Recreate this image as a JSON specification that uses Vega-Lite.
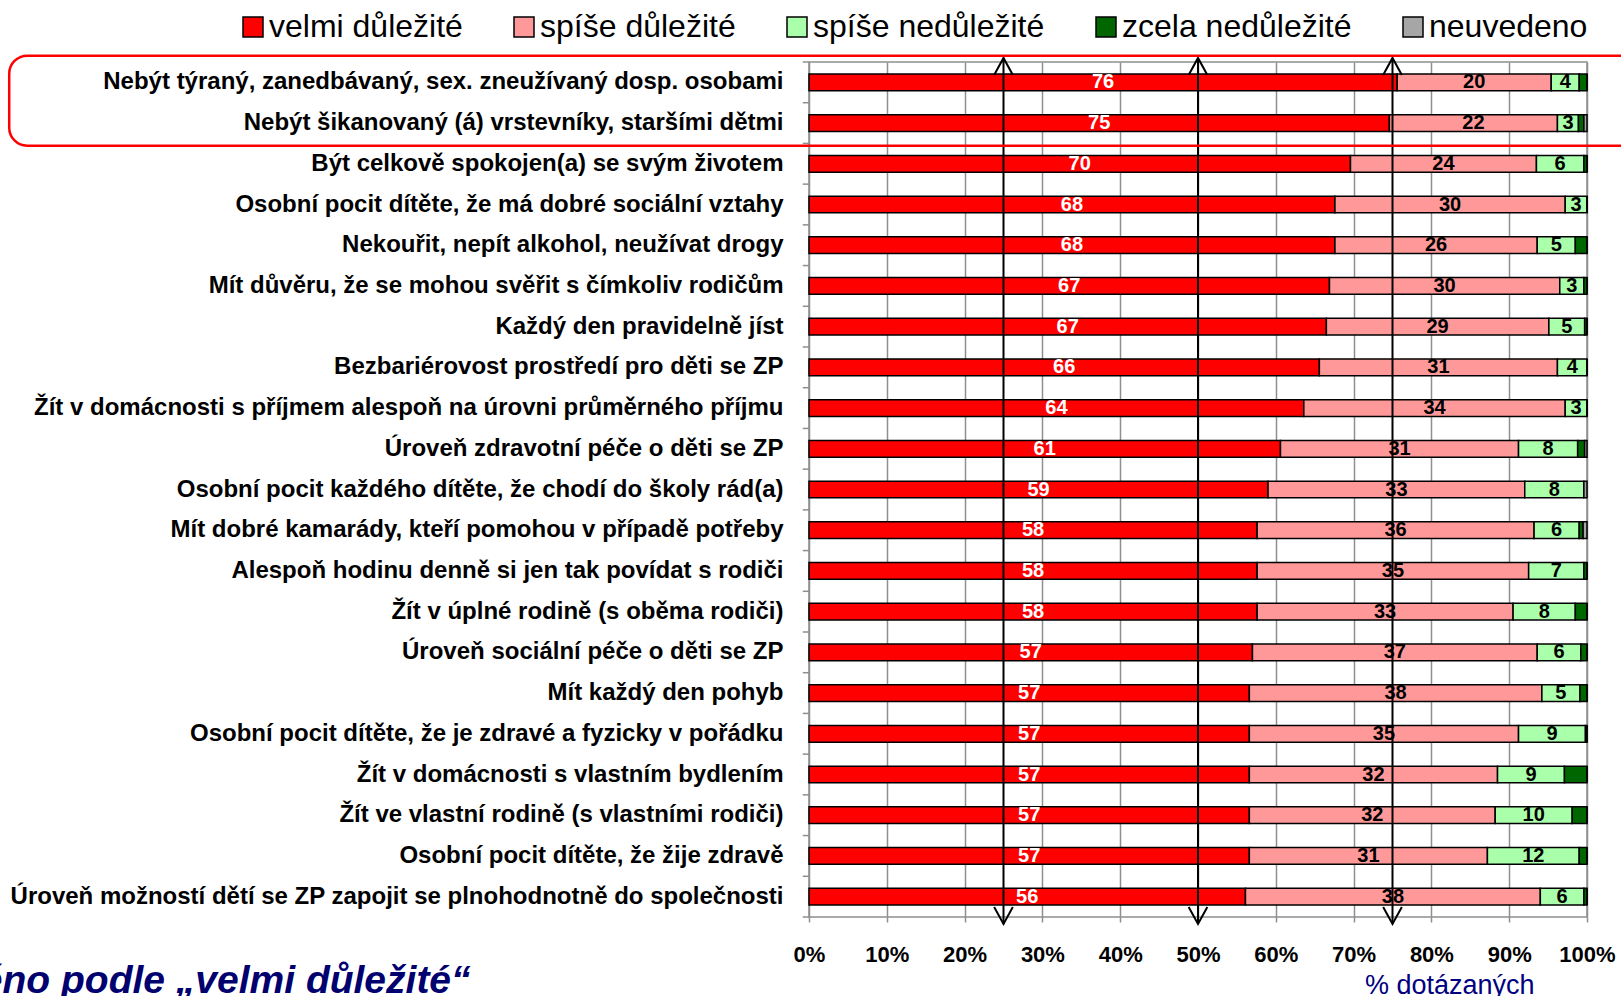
{
  "$schema": "https://vega.github.io/schema/vega-lite/v6.json",
  "width": 778,
  "height": 855,
  "autosize": {"type": "none"},
  "padding": {"left": 809, "top": 62, "right": 34, "bottom": 79},
  "background": "white",
  "config": {
    "font": "Liberation Sans",
    "view": {"stroke": "#8f8f8f", "strokeWidth": 1.5},
    "axisX": {
      "grid": true, "gridColor": "#8f8f8f", "gridWidth": 1.5,
      "domain": false, "tickColor": "#8f8f8f", "tickSize": 5, "tickWidth": 1.5,
      "labelFont": "Liberation Sans", "labelFontSize": 22, "labelFontWeight": "bold", "labelColor": "black",
      "labelPadding": 22, "labelOverlap": false, "labelFlush": false,
      "titleFont": "Liberation Sans", "titleFontSize": 27, "titleFontWeight": "normal", "titleColor": "#000080",
      "titleAnchor": "end", "titleAlign": "right", "titleBaseline": "alphabetic", "titleX": 725, "titleY": 76
    },
    "axisY": {
      "domain": false, "ticks": false, "tickSize": 0, "grid": false,
      "labelFont": "Liberation Sans", "labelFontSize": 24, "labelFontWeight": "bold", "labelColor": "black",
      "labelPadding": 26, "labelLimit": 1000
    },
    "legend": {
      "orient": "none", "legendX": -572, "legendY": -51, "direction": "horizontal",
      "labelFont": "Liberation Sans", "labelFontSize": 32, "labelColor": "black", "labelLimit": 0,
      "symbolType": "square", "symbolSize": 400, "symbolStrokeColor": "black", "symbolStrokeWidth": 1.5,
      "labelOffset": 0, "columnPadding": 45, "padding": 0
    }
  },
  "datasets": {
    "otazky": [
      {"k": "Nebýt týraný, zanedbávaný, sex. zneužívaný dosp. osobami", "velmi důležité": 75.6, "spíše důležité": 19.8, "spíše nedůležité": 3.6, "zcela nedůležité": 1.0, "neuvedeno": 0},
      {"k": "Nebýt šikanovaný (á) vrstevníky, staršími dětmi", "velmi důležité": 74.6, "spíše důležité": 21.6, "spíše nedůležité": 2.7, "zcela nedůležité": 0.7, "neuvedeno": 0.4},
      {"k": "Být celkově spokojen(a) se svým životem", "velmi důležité": 69.6, "spíše důležité": 23.9, "spíše nedůležité": 6.1, "zcela nedůležité": 0.4, "neuvedeno": 0},
      {"k": "Osobní pocit dítěte, že má dobré sociální vztahy", "velmi důležité": 67.6, "spíše důležité": 29.6, "spíše nedůležité": 2.8, "zcela nedůležité": 0, "neuvedeno": 0},
      {"k": "Nekouřit, nepít alkohol, neužívat drogy", "velmi důležité": 67.6, "spíše důležité": 26.0, "spíše nedůležité": 4.9, "zcela nedůležité": 1.5, "neuvedeno": 0},
      {"k": "Mít důvěru, že se mohou svěřit s čímkoliv rodičům", "velmi důležité": 66.9, "spíše důležité": 29.6, "spíše nedůležité": 3.1, "zcela nedůležité": 0.4, "neuvedeno": 0},
      {"k": "Každý den pravidelně jíst", "velmi důležité": 66.5, "spíše důležité": 28.6, "spíše nedůležité": 4.6, "zcela nedůležité": 0.3, "neuvedeno": 0},
      {"k": "Bezbariérovost prostředí pro děti se ZP", "velmi důležité": 65.6, "spíše důležité": 30.6, "spíše nedůležité": 3.8, "zcela nedůležité": 0, "neuvedeno": 0},
      {"k": "Žít v domácnosti s příjmem alespoň na úrovni průměrného příjmu", "velmi důležité": 63.6, "spíše důležité": 33.6, "spíše nedůležité": 2.8, "zcela nedůležité": 0, "neuvedeno": 0},
      {"k": "Úroveň zdravotní péče o děti se ZP", "velmi důležité": 60.6, "spíše důležité": 30.6, "spíše nedůležité": 7.6, "zcela nedůležité": 0.9, "neuvedeno": 0.3},
      {"k": "Osobní pocit každého dítěte, že chodí do školy rád(a)", "velmi důležité": 59.0, "spíše důležité": 33.0, "spíše nedůležité": 7.6, "zcela nedůležité": 0, "neuvedeno": 0.4},
      {"k": "Mít dobré kamarády, kteří pomohou v případě potřeby", "velmi důležité": 57.6, "spíše důležité": 35.6, "spíše nedůležité": 5.8, "zcela nedůležité": 0.5, "neuvedeno": 0.5},
      {"k": "Alespoň hodinu denně si jen tak povídat s rodiči", "velmi důležité": 57.6, "spíše důležité": 34.9, "spíše nedůležité": 7.1, "zcela nedůležité": 0.4, "neuvedeno": 0},
      {"k": "Žít v úplné rodině (s oběma rodiči)", "velmi důležité": 57.6, "spíše důležité": 32.9, "spíše nedůležité": 8.0, "zcela nedůležité": 1.5, "neuvedeno": 0},
      {"k": "Úroveň sociální péče o děti se ZP", "velmi důležité": 57.0, "spíše důležité": 36.6, "spíše nedůležité": 5.6, "zcela nedůležité": 0.8, "neuvedeno": 0},
      {"k": "Mít každý den pohyb", "velmi důležité": 56.6, "spíše důležité": 37.6, "spíše nedůležité": 4.9, "zcela nedůležité": 0.9, "neuvedeno": 0},
      {"k": "Osobní pocit dítěte, že je zdravé a fyzicky v pořádku", "velmi důležité": 56.6, "spíše důležité": 34.6, "spíše nedůležité": 8.6, "zcela nedůležité": 0.2, "neuvedeno": 0},
      {"k": "Žít v domácnosti s vlastním bydlením", "velmi důležité": 56.6, "spíše důležité": 31.9, "spíše nedůležité": 8.6, "zcela nedůležité": 2.9, "neuvedeno": 0},
      {"k": "Žít ve vlastní rodině (s vlastními rodiči)", "velmi důležité": 56.6, "spíše důležité": 31.6, "spíše nedůležité": 9.9, "zcela nedůležité": 1.9, "neuvedeno": 0},
      {"k": "Osobní pocit dítěte, že žije zdravě", "velmi důležité": 56.6, "spíše důležité": 30.6, "spíše nedůležité": 11.8, "zcela nedůležité": 1.0, "neuvedeno": 0},
      {"k": "Úroveň možností dětí se ZP zapojit se plnohodnotně do společnosti", "velmi důležité": 56.1, "spíše důležité": 37.9, "spíše nedůležité": 5.6, "zcela nedůležité": 0.4, "neuvedeno": 0}
    ],
    "skala": [
      {"s": "velmi důležité", "n": 1},
      {"s": "spíše důležité", "n": 2},
      {"s": "spíše nedůležité", "n": 3},
      {"s": "zcela nedůležité", "n": 4},
      {"s": "neuvedeno", "n": 5}
    ]
  },
  "layer": [
    {
      "data": {"name": "otazky"},
      "transform": [
        {"fold": ["velmi důležité", "spíše důležité", "spíše nedůležité", "zcela nedůležité", "neuvedeno"], "as": ["s", "v"]},
        {"lookup": "s", "from": {"data": {"name": "skala"}, "key": "s", "fields": ["n"]}}
      ],
      "layer": [
        {
          "mark": {"type": "bar", "stroke": "black", "strokeWidth": 1.5},
          "encoding": {
            "y": {"field": "k", "type": "nominal", "sort": null, "title": null,
                  "scale": {"type": "band", "paddingInner": 0.59, "paddingOuter": 0.295}},
            "x": {"field": "v", "type": "quantitative", "stack": "zero", "title": "% dotázaných",
                  "scale": {"domain": [0, 100], "nice": false, "zero": false},
                  "axis": {"values": [0, 10, 20, 30, 40, 50, 60, 70, 80, 90, 100], "labelExpr": "datum.value + '%'"}},
            "color": {"field": "s", "type": "nominal", "title": null,
                      "scale": {"domain": ["velmi důležité", "spíše důležité", "spíše nedůležité", "zcela nedůležité", "neuvedeno"],
                                "range": ["#ff0000", "#ff9999", "#aaffaa", "#006600", "#a6a6a6"]}},
            "order": {"field": "n", "type": "quantitative", "sort": "ascending"}
          }
        },
        {
          "transform": [{"filter": "datum.n <= 3"}],
          "mark": {"type": "text", "font": "Liberation Sans", "fontSize": 20, "fontWeight": "bold", "align": "center", "baseline": "middle"},
          "encoding": {
            "y": {"field": "k", "type": "nominal", "sort": null, "title": null,
                  "scale": {"type": "band", "paddingInner": 0.59, "paddingOuter": 0.295}},
            "x": {"field": "v", "type": "quantitative", "stack": "zero", "bandPosition": 0.5, "title": "% dotázaných",
                  "scale": {"domain": [0, 100], "nice": false, "zero": false}},
            "text": {"field": "v", "type": "quantitative", "format": ".0f"},
            "detail": {"field": "s", "type": "nominal"},
            "order": {"field": "n", "type": "quantitative", "sort": "ascending"},
            "color": {"condition": {"test": "datum.n == 1", "value": "white"}, "value": "black"}
          }
        }
      ]
    },
    {
      "layer": [
        {
          "data": {"values": [{"r": 0}, {"r": 1}, {"r": 2}, {"r": 3}, {"r": 4}, {"r": 5}, {"r": 6}, {"r": 7}, {"r": 8}, {"r": 9}, {"r": 10}, {"r": 11}, {"r": 12}, {"r": 13}, {"r": 14}, {"r": 15}, {"r": 16}, {"r": 17}, {"r": 18}, {"r": 19}, {"r": 20}, {"r": 21}]},
          "mark": {"type": "rule", "color": "#8f8f8f", "strokeWidth": 1.5},
          "encoding": {
            "x": {"datum": -0.8, "type": "quantitative", "title": "% dotázaných", "scale": {"domain": [0, 100], "nice": false, "zero": false}},
            "x2": {"datum": 0},
            "y": {"field": "r", "type": "quantitative", "axis": null, "scale": {"domain": [0, 21], "reverse": true, "nice": false, "zero": false}}
          }
        },
        {
          "data": {"values": [{"p": 25}, {"p": 50}, {"p": 75}]},
          "mark": {"type": "rule", "color": "black", "strokeWidth": 2},
          "encoding": {
            "x": {"field": "p", "type": "quantitative", "title": "% dotázaných", "scale": {"domain": [0, 100], "nice": false, "zero": false}},
            "y": {"datum": -0.1, "type": "quantitative", "axis": null, "scale": {"domain": [0, 21], "reverse": true, "nice": false, "zero": false}},
            "y2": {"datum": 21.17}
          }
        },
        {
          "data": {"values": [{"p": 25}, {"p": 50}, {"p": 75}]},
          "mark": {"type": "point", "shape": "M-0.55,1L0,0L0.55,1", "filled": false, "stroke": "black", "strokeWidth": 2, "size": 1156, "opacity": 1},
          "encoding": {
            "x": {"field": "p", "type": "quantitative", "title": "% dotázaných", "scale": {"domain": [0, 100], "nice": false, "zero": false}},
            "y": {"datum": -0.1, "type": "quantitative", "axis": null, "scale": {"domain": [0, 21], "reverse": true, "nice": false, "zero": false}}
          }
        },
        {
          "data": {"values": [{"p": 25}, {"p": 50}, {"p": 75}]},
          "mark": {"type": "point", "shape": "M-0.55,-1L0,0L0.55,-1", "filled": false, "stroke": "black", "strokeWidth": 2, "size": 1156, "opacity": 1},
          "encoding": {
            "x": {"field": "p", "type": "quantitative", "title": "% dotázaných", "scale": {"domain": [0, 100], "nice": false, "zero": false}},
            "y": {"datum": 21.17, "type": "quantitative", "axis": null, "scale": {"domain": [0, 21], "reverse": true, "nice": false, "zero": false}}
          }
        },
        {
          "data": {"values": [{"skupina": "zvýrazněno"}]},
          "mark": {"type": "rect", "fill": null, "fillOpacity": 0, "stroke": "#ff0000", "strokeWidth": 2.5, "cornerRadius": 18},
          "encoding": {
            "x": {"datum": -102.8, "type": "quantitative", "title": "% dotázaných", "scale": {"domain": [0, 100], "nice": false, "zero": false}},
            "x2": {"datum": 107},
            "y": {"datum": -0.155, "type": "quantitative", "axis": null, "scale": {"domain": [0, 21], "reverse": true, "nice": false, "zero": false}},
            "y2": {"datum": 2.056}
          }
        },
        {
          "data": {"values": [{"t": "Setříděno podle „velmi důležité“"}]},
          "mark": {"type": "text", "font": "Liberation Sans", "fontSize": 39, "fontWeight": "bold", "fontStyle": "italic", "color": "#00006e", "align": "right", "baseline": "alphabetic"},
          "encoding": {
            "text": {"field": "t", "type": "nominal"},
            "x": {"datum": -43.5, "type": "quantitative", "title": "% dotázaných", "scale": {"domain": [0, 100], "nice": false, "zero": false}},
            "y": {"datum": 22.86, "type": "quantitative", "axis": null, "scale": {"domain": [0, 21], "reverse": true, "nice": false, "zero": false}}
          }
        }
      ]
    }
  ],
  "resolve": {"scale": {"y": "independent"}}
}
